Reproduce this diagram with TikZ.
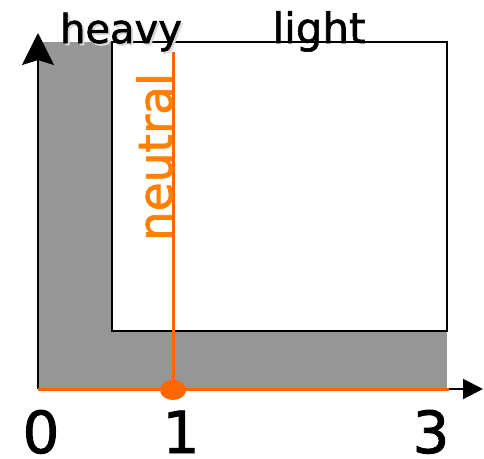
\documentclass[tikz,border=0pt]{standalone}
\usepackage{fontspec}
\setmainfont[FakeBold=1.5]{DejaVu Sans}
\usetikzlibrary{arrows.meta,shapes.geometric}
\definecolor{RegionGray}{HTML}{969696}
\definecolor{ShadowGray}{HTML}{D9D9D9}
\definecolor{LineOrange}{HTML}{FF6600}
\definecolor{TextOrange}{HTML}{FF8000}
\tikzset{axis/.style={draw=black,line width=2pt},
 border/.style={draw=black,line width=1.6pt},
 neutralline/.style={draw=LineOrange,line width=3pt},
 lab/.style={inner sep=0pt,anchor=base}}
\begin{document}
\begin{tikzpicture}[x=1pt,y=-1pt]
\useasboundingbox (0,0) rectangle (484,458);
\coordinate (O) at (38,389);
\coordinate (xtip) at (483,389);
\coordinate (ytip) at (38,33);
\coordinate (xend) at (449,389);
\coordinate (ntop) at (173,52);
% shaded region and box
\fill[RegionGray] (38,42) rectangle (447,389);
\draw[border,fill=white] (112,42) rectangle (447,331);
\draw[axis,-{Triangle[length=20pt,width=20pt]}] (O)--(xtip);
\draw[axis,-{Stealth[length=32pt,width=32pt,inset=5pt]}] (O)--(ytip);
% neutral line
\node[ellipse,fill=LineOrange,minimum width=26pt,minimum height=20pt,inner sep=0pt] (dot) at (173,390) {};
\draw[neutralline] (O)--(xend);
\draw[neutralline] (ntop)--(dot.center);
\node[lab,text=TextOrange,rotate=90,font=\fontsize{47}{47}\selectfont] (neutral) at (172,157) {neutral};
% labels
\node[lab,text=ShadowGray,font=\fontsize{40}{40}\selectfont] (heavyshadow) at (123,45) {heavy};
\node[lab,font=\fontsize{40}{40}\selectfont] (heavy) at (121,43) {heavy};
\node[lab,font=\fontsize{42}{42}\selectfont] (light) at (319,43) {light};
\foreach \x/\lab in {41/0,181/1,431/3}
 {\node[lab,font=\fontsize{58}{58}\selectfont] (tick\lab) at (\x,453) {\lab};}
\end{tikzpicture}
\end{document}
